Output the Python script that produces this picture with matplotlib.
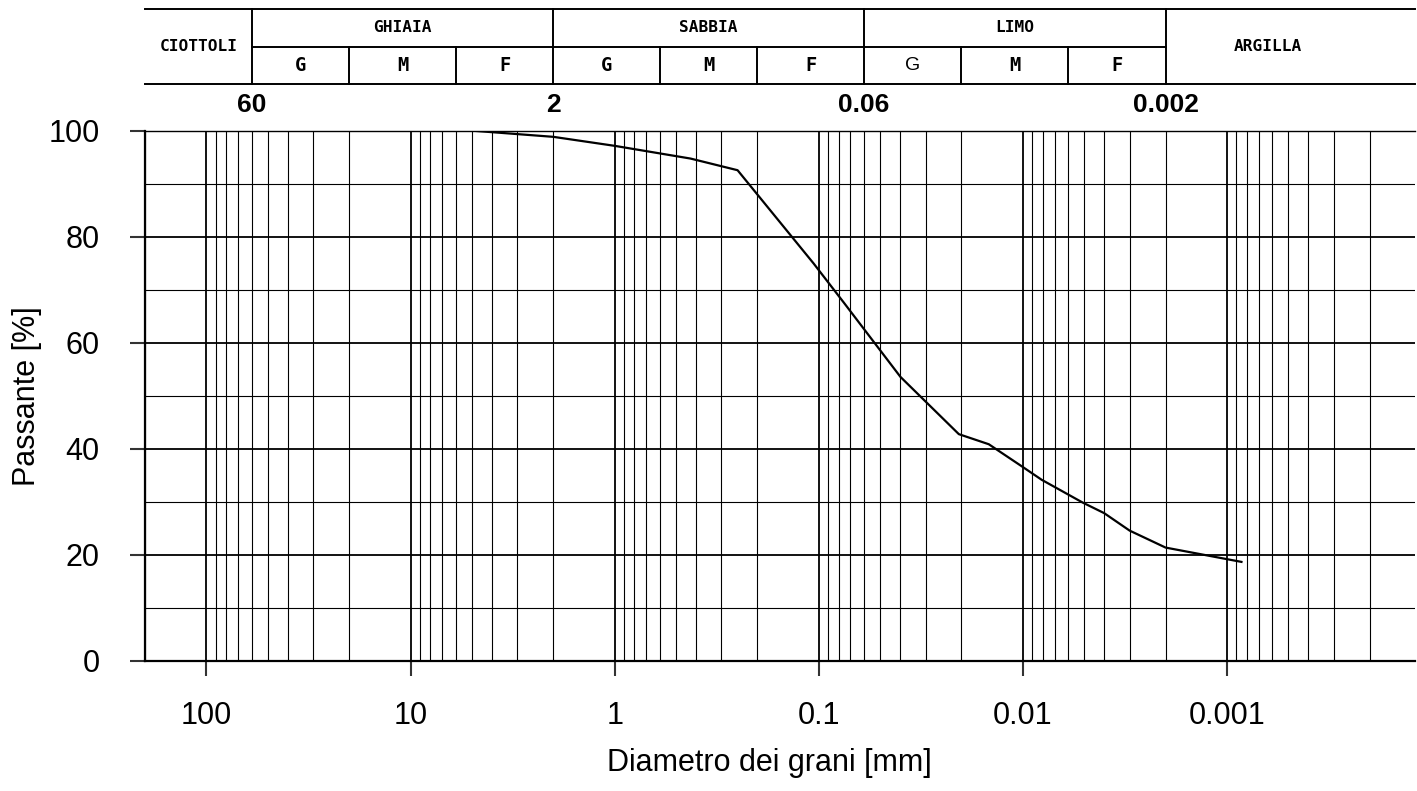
import numpy as np
import matplotlib
matplotlib.use("Agg")
import matplotlib.pyplot as plt
from matplotlib.ticker import FixedLocator, LogLocator, NullFormatter

plt.rcParams['font.family'] = ['Liberation Sans', 'DejaVu Sans']

# curva granulometrica (diametro in mm, passante in %)
diametri = [4.75, 2.0, 1.0, 0.425, 0.25, 0.106, 0.075, 0.0398, 0.0206, 0.0147,
            0.0101, 0.0081, 0.0051, 0.0040, 0.0030, 0.0020, 0.00085]
passante = [100, 98.9, 97.2, 94.8, 92.6, 75.0, 67.5, 53.6, 42.8, 40.9,
            36.7, 34.2, 29.9, 27.9, 24.6, 21.4, 18.7]

x_ticks = [100, 10, 1, 0.1, 0.01, 0.001]
x_tick_labels = ['100', '10', '1', '0.1', '0.01', '0.001']
y_ticks = [0, 20, 40, 60, 80, 100]
y_minor = [10, 30, 50, 70, 90]

# intestazione con le classi granulometriche
classi = ['CIOTTOLI', 'GHIAIA', 'SABBIA', 'LIMO', 'ARGILLA']
limiti_classi = [200, 60, 2, 0.06, 0.002, 0.0002]
etichette_limiti = ['60', '2', '0.06', '0.002']
sottoclassi = ['G', 'M', 'F']
limiti_sotto = [60, 20, 6, 2, 0.6, 0.2, 0.06, 0.02, 0.006, 0.002]

W, H = 1417, 791
fig = plt.figure(figsize=(W / 100, H / 100), dpi=100)
ax = fig.add_axes([145 / W, 1 - 661 / H, 1270 / W, 530 / H])

ax.plot(diametri, passante, color='k', lw=1.6, zorder=3)

ax.set_xscale('log')
ax.set_xlim(200, 0.00012)
ax.set_ylim(0, 100)

ax.xaxis.set_major_locator(FixedLocator(x_ticks))
ax.set_xticklabels(x_tick_labels)
ax.xaxis.set_minor_locator(LogLocator(base=10, subs=np.arange(2, 10), numticks=30))
ax.xaxis.set_minor_formatter(NullFormatter())
ax.yaxis.set_major_locator(FixedLocator(y_ticks))
ax.yaxis.set_minor_locator(FixedLocator(y_minor))

ax.grid(True, which='major', color='k', lw=1.3)
ax.grid(True, which='minor', color='k', lw=0.8)
ax.set_axisbelow(True)

ax.tick_params(which='major', length=10.8, width=1.5, color='#333333', labelsize=22)
ax.tick_params(axis='x', which='major', pad=18)
ax.tick_params(axis='y', which='major', pad=22)
ax.tick_params(which='minor', length=0)

for s in ['left', 'bottom']:
    ax.spines[s].set_linewidth(1.6)
ax.spines['right'].set_visible(False)
ax.spines['top'].set_linewidth(1.0)

ax.set_xlabel('Diametro dei grani [mm]', fontsize=22)
ax.xaxis.set_label_coords(0.492, -0.165)
ax.set_ylabel('Passante [%]', fontsize=22)
ax.yaxis.set_label_coords(-0.081, 0.5)

# tabella in alto
trans = ax.get_xaxis_transform()
y_top, y_mid, y_bot = 1.2302, 1.1585, 1.0887
lkw = dict(color='k', lw=1.4, clip_on=False)
ax.plot([0, 1], [y_top, y_top], transform=ax.transAxes, **lkw)
ax.plot([0, 1], [y_bot, y_bot], transform=ax.transAxes, **lkw)
ax.plot([limiti_classi[1], limiti_classi[4]], [y_mid, y_mid], transform=trans, **lkw)
for e in limiti_classi[1:5]:
    ax.plot([e, e], [y_bot, y_top], transform=trans, **lkw)
for e in limiti_sotto:
    if e not in limiti_classi:
        ax.plot([e, e], [y_bot, y_mid], transform=trans, **lkw)

mono = 'DejaVu Sans Mono'
for i, nome in enumerate(classi):
    a, b = limiti_classi[i], limiti_classi[i + 1]
    xc = np.sqrt(a * b)
    if nome in ('CIOTTOLI', 'ARGILLA'):
        yc = (y_top + y_bot) / 2
    else:
        yc = (y_top + y_mid) / 2
    ax.text(xc, yc, nome, transform=trans, ha='center', va='center',
            family=mono, weight='bold', fontsize=11.6)

for j in range(len(limiti_sotto) - 1):
    a, b = limiti_sotto[j], limiti_sotto[j + 1]
    lab = sottoclassi[j % 3]
    if j == 6:
        # la G del limo non e' in grassetto
        ax.text(np.sqrt(a * b), (y_mid + y_bot) / 2, lab, transform=trans,
                ha='center', va='center', family='Liberation Sans', fontsize=14)
    else:
        ax.text(np.sqrt(a * b), (y_mid + y_bot) / 2, lab, transform=trans,
                ha='center', va='center', family=mono, weight='bold', fontsize=13.5)

for e, lab in zip(limiti_classi[1:5], etichette_limiti):
    ax.text(e, 1.049, lab, transform=trans, ha='center', va='center',
            weight='bold', fontsize=19)

fig.savefig('out.png', dpi=100)
